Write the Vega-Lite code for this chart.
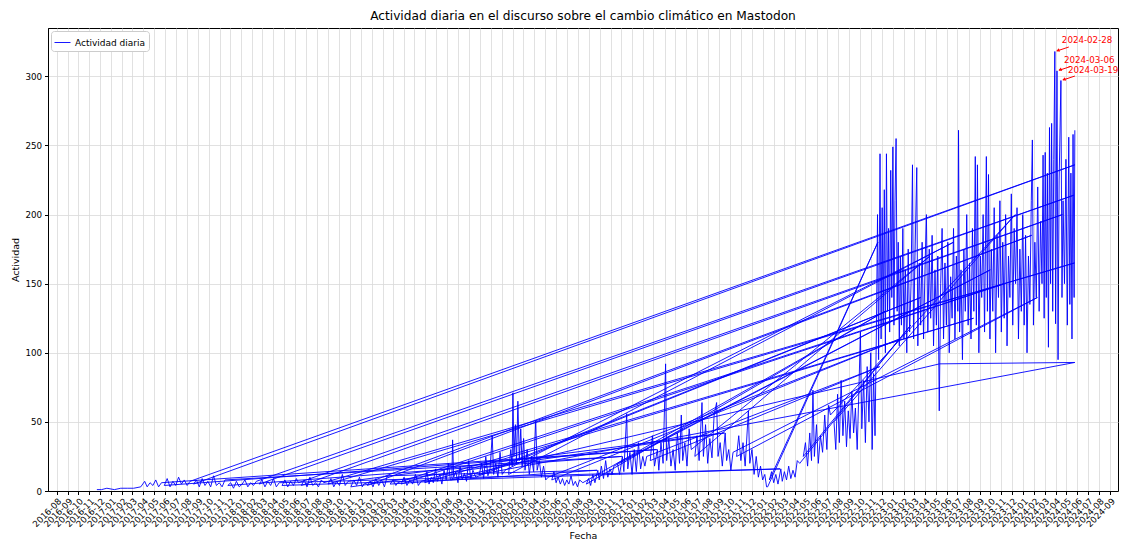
{
  "$schema": "https://vega.github.io/schema/vega-lite/v6.json",
  "width": 1070,
  "height": 463,
  "autosize": {"type": "none"},
  "padding": {"left": 48, "top": 28, "right": 3, "bottom": 49},
  "background": "white",
  "config": {
    "font": "DejaVu Sans",
    "view": {"stroke": "#000", "strokeWidth": 1},
    "axis": {
      "labelFont": "DejaVu Sans", "titleFont": "DejaVu Sans", "labelColor": "#000", "titleColor": "#000",
      "labelFontSize": 8.7, "titleFontSize": 9.5, "titleFontWeight": "normal",
      "tickSize": 3.5, "tickColor": "#000", "domainColor": "#000", "domainWidth": 1,
      "gridColor": "#d9d9d9", "gridWidth": 0.8, "grid": true
    }
  },
  "title": {"text": "Actividad diaria en el discurso sobre el cambio climático en Mastodon", "fontSize": 12.2, "fontWeight": "normal", "font": "DejaVu Sans", "color": "#000", "anchor": "middle", "offset": 6},
  "datasets": {
    "act": [
      {"d":"2016-11-22","v":1},{"d":"2016-12-05","v":1},{"d":"2016-12-20","v":2},{"d":"2017-01-10","v":1},{"d":"2017-01-28","v":2},{"d":"2017-02-15","v":2},{"d":"2017-03-05","v":2},{"d":"2017-03-25","v":3},{"d":"2017-04-05","v":7},{"d":"2017-04-12","v":3},{"d":"2017-04-20","v":6},{"d":"2017-04-28","v":4},{"d":"2017-05-06","v":8},{"d":"2017-05-14","v":3},{"d":"2017-05-22","v":6},
      {"d":"2021-03-10","v":30},
      {"d":"2017-05-30","v":4},{"d":"2017-06-07","v":9},{"d":"2017-06-15","v":3},{"d":"2017-06-23","v":7},{"d":"2017-07-01","v":4},{"d":"2017-07-09","v":10},{"d":"2017-07-17","v":5},{"d":"2017-07-25","v":8},{"d":"2017-08-02","v":4},{"d":"2017-08-10","v":7},
      {"d":"2024-05-25","v":236},
      {"d":"2017-08-20","v":5},{"d":"2017-08-28","v":8},{"d":"2017-09-05","v":3},{"d":"2017-09-13","v":9},{"d":"2017-09-21","v":4},{"d":"2017-09-29","v":7},{"d":"2017-10-07","v":3},{"d":"2017-10-15","v":11},{"d":"2017-10-23","v":4},{"d":"2017-10-31","v":6},{"d":"2017-11-08","v":3},{"d":"2017-11-16","v":8},
      {"d":"2020-12-02","v":25},
      {"d":"2017-11-24","v":4},{"d":"2017-12-02","v":6},{"d":"2017-12-10","v":2},{"d":"2017-12-18","v":7},{"d":"2017-12-26","v":3},{"d":"2018-01-03","v":5},{"d":"2018-01-11","v":8},{"d":"2018-01-19","v":3},{"d":"2018-01-27","v":6},{"d":"2018-02-04","v":4},{"d":"2018-02-12","v":7},
      {"d":"2024-05-22","v":214},
      {"d":"2018-02-20","v":5},{"d":"2018-02-28","v":8},{"d":"2018-03-08","v":3},{"d":"2018-03-16","v":7},{"d":"2018-03-24","v":4},{"d":"2018-04-01","v":9},{"d":"2018-04-09","v":3},{"d":"2018-04-17","v":6},
      {"d":"2022-02-19","v":16},
      {"d":"2018-04-25","v":4},{"d":"2018-05-03","v":8},{"d":"2018-05-11","v":3},{"d":"2018-05-19","v":7},{"d":"2018-05-27","v":4},{"d":"2018-06-04","v":9},{"d":"2018-06-10","v":6},
      {"d":"2024-04-20","v":200},
      {"d":"2018-06-18","v":4},{"d":"2018-06-26","v":8},{"d":"2018-07-04","v":3},{"d":"2018-07-12","v":10},{"d":"2018-07-20","v":4},{"d":"2018-07-28","v":6},{"d":"2018-08-05","v":3},{"d":"2018-08-13","v":8},{"d":"2018-08-20","v":6},
      {"d":"2024-05-24","v":165},
      {"d":"2018-09-01","v":5},{"d":"2018-09-09","v":9},{"d":"2018-09-17","v":3},{"d":"2018-09-25","v":7},{"d":"2018-10-03","v":4},{"d":"2018-10-11","v":12},{"d":"2018-10-19","v":4},{"d":"2018-10-27","v":7},
      {"d":"2021-09-16","v":42},
      {"d":"2018-11-04","v":3},{"d":"2018-11-12","v":8},{"d":"2018-11-20","v":4},{"d":"2018-11-28","v":10},{"d":"2018-12-06","v":3},{"d":"2018-12-10","v":5},
      {"d":"2024-01-25","v":185},
      {"d":"2018-12-20","v":4},{"d":"2018-12-28","v":7},{"d":"2019-01-05","v":3},{"d":"2019-01-13","v":9},{"d":"2019-01-21","v":4},{"d":"2019-01-29","v":8},{"d":"2019-02-06","v":3},{"d":"2019-02-14","v":11},
      {"d":"2020-09-24","v":15},
      {"d":"2019-02-22","v":5},{"d":"2019-03-02","v":8},{"d":"2019-03-10","v":4},{"d":"2019-03-15","v":6},
      {"d":"2023-11-10","v":150},
      {"d":"2019-03-25","v":5},{"d":"2019-04-02","v":10},{"d":"2019-04-10","v":4},{"d":"2019-04-18","v":8},{"d":"2019-04-26","v":5},{"d":"2019-05-04","v":12},{"d":"2019-05-12","v":4},{"d":"2019-05-20","v":7},
      {"d":"2023-08-15","v":125},
      {"d":"2019-05-30","v":6},{"d":"2019-06-05","v":14},{"d":"2019-06-11","v":5},{"d":"2019-06-17","v":10},{"d":"2019-06-23","v":6},{"d":"2019-06-29","v":16},{"d":"2019-07-05","v":7},{"d":"2019-07-11","v":12},{"d":"2019-07-17","v":5},{"d":"2019-07-23","v":15},{"d":"2019-07-29","v":8},{"d":"2019-08-04","v":20},{"d":"2019-08-10","v":8},
      {"d":"2024-05-25","v":93},{"d":"2023-05-12","v":92},
      {"d":"2019-08-14","v":9},{"d":"2019-08-16","v":37},{"d":"2019-08-19","v":10},{"d":"2019-08-25","v":14},{"d":"2019-08-31","v":6},{"d":"2019-09-06","v":18},{"d":"2019-09-12","v":8},{"d":"2019-09-18","v":13},{"d":"2019-09-24","v":7},{"d":"2019-09-30","v":22},{"d":"2019-10-06","v":9},{"d":"2019-10-12","v":15},{"d":"2019-10-20","v":10},
      {"d":"2023-03-20","v":140},
      {"d":"2019-10-30","v":12},{"d":"2019-11-05","v":20},{"d":"2019-11-11","v":9},{"d":"2019-11-17","v":25},{"d":"2019-11-23","v":11},{"d":"2019-11-29","v":16},{"d":"2019-12-05","v":40},{"d":"2019-12-09","v":12},{"d":"2019-12-15","v":20},{"d":"2019-12-21","v":10},{"d":"2019-12-27","v":28},{"d":"2020-01-02","v":12},{"d":"2020-01-10","v":15},
      {"d":"2023-06-20","v":180},
      {"d":"2020-01-20","v":12},{"d":"2020-01-26","v":30},{"d":"2020-01-30","v":18},{"d":"2020-02-01","v":71},{"d":"2020-02-04","v":25},{"d":"2020-02-08","v":48},{"d":"2020-02-11","v":20},{"d":"2020-02-15","v":65},{"d":"2020-02-19","v":22},{"d":"2020-02-23","v":45},{"d":"2020-02-27","v":18},{"d":"2020-03-02","v":38},{"d":"2020-03-06","v":15},{"d":"2020-03-12","v":30},{"d":"2020-03-18","v":12},{"d":"2020-03-24","v":25},{"d":"2020-03-30","v":14},{"d":"2020-04-05","v":51},{"d":"2020-04-09","v":15},{"d":"2020-04-15","v":22},{"d":"2020-04-21","v":10},{"d":"2020-04-27","v":18},{"d":"2020-05-03","v":8},{"d":"2020-05-10","v":10},
      {"d":"2023-01-20","v":110},
      {"d":"2020-05-20","v":8},{"d":"2020-05-26","v":14},{"d":"2020-06-01","v":6},{"d":"2020-06-07","v":10},{"d":"2020-06-13","v":5},{"d":"2020-06-19","v":9},{"d":"2020-06-25","v":4},{"d":"2020-07-01","v":8},{"d":"2020-07-07","v":5},{"d":"2020-07-13","v":11},{"d":"2020-07-19","v":4},{"d":"2020-07-25","v":7},{"d":"2020-07-31","v":3},{"d":"2020-08-06","v":8},{"d":"2020-08-15","v":6},
      {"d":"2022-12-10","v":130},
      {"d":"2020-08-25","v":5},{"d":"2020-08-31","v":9},{"d":"2020-09-06","v":4},{"d":"2020-09-12","v":12},{"d":"2020-09-18","v":6},{"d":"2020-09-26","v":15},{"d":"2020-09-30","v":8},{"d":"2020-10-06","v":18},{"d":"2020-10-12","v":9},{"d":"2020-10-18","v":22},{"d":"2020-10-24","v":10},{"d":"2020-10-30","v":16},{"d":"2020-11-05","v":12},{"d":"2020-11-10","v":18},
      {"d":"2023-10-01","v":160},
      {"d":"2020-11-20","v":20},{"d":"2020-11-26","v":12},{"d":"2020-12-04","v":25},{"d":"2020-12-08","v":14},{"d":"2020-12-16","v":56},{"d":"2020-12-19","v":16},{"d":"2020-12-25","v":28},{"d":"2020-12-31","v":12},{"d":"2021-01-06","v":30},{"d":"2021-01-12","v":14},{"d":"2021-01-18","v":35},{"d":"2021-01-24","v":16},{"d":"2021-01-30","v":25},{"d":"2021-02-05","v":18},{"d":"2021-02-10","v":25},
      {"d":"2022-11-25","v":90},
      {"d":"2021-02-20","v":22},{"d":"2021-02-26","v":40},{"d":"2021-03-04","v":18},{"d":"2021-03-12","v":30},{"d":"2021-03-16","v":15},{"d":"2021-03-22","v":35},{"d":"2021-03-28","v":20},{"d":"2021-04-04","v":92},{"d":"2021-04-07","v":22},{"d":"2021-04-13","v":38},{"d":"2021-04-19","v":18},{"d":"2021-04-25","v":30},{"d":"2021-05-01","v":15},{"d":"2021-05-07","v":42},{"d":"2021-05-13","v":20},{"d":"2021-05-18","v":55},{"d":"2021-05-22","v":22},{"d":"2021-05-28","v":35},{"d":"2021-06-03","v":18},{"d":"2021-06-09","v":45},{"d":"2021-06-15","v":30},
      {"d":"2023-04-15","v":170},
      {"d":"2021-06-25","v":25},{"d":"2021-07-01","v":40},{"d":"2021-07-07","v":22},{"d":"2021-07-15","v":64},{"d":"2021-07-19","v":25},{"d":"2021-07-25","v":48},{"d":"2021-07-31","v":20},{"d":"2021-08-06","v":38},{"d":"2021-08-12","v":24},{"d":"2021-08-18","v":55},{"d":"2021-08-25","v":64},{"d":"2021-08-29","v":25},{"d":"2021-09-04","v":35},{"d":"2021-09-10","v":18},{"d":"2021-09-18","v":42},{"d":"2021-09-22","v":22},{"d":"2021-09-28","v":30},{"d":"2021-10-04","v":15},{"d":"2021-10-10","v":28},
      {"d":"2024-02-10","v":140},
      {"d":"2021-10-20","v":25},{"d":"2021-10-26","v":40},{"d":"2021-11-01","v":22},{"d":"2021-11-07","v":35},{"d":"2021-11-13","v":18},{"d":"2021-11-22","v":58},{"d":"2021-11-26","v":20},{"d":"2021-12-02","v":30},{"d":"2021-12-08","v":12},{"d":"2021-12-14","v":25},{"d":"2021-12-20","v":10},{"d":"2021-12-26","v":18},{"d":"2022-01-01","v":8},{"d":"2022-01-07","v":12},{"d":"2022-01-12","v":3},{"d":"2022-01-15","v":3},
      {"d":"2022-11-20","v":180},
      {"d":"2022-01-20","v":8},{"d":"2022-01-26","v":14},{"d":"2022-02-01","v":6},{"d":"2022-02-07","v":12},{"d":"2022-02-13","v":5},{"d":"2022-02-21","v":16},{"d":"2022-02-25","v":7},{"d":"2022-03-03","v":14},{"d":"2022-03-09","v":8},{"d":"2022-03-15","v":18},{"d":"2022-03-21","v":9},{"d":"2022-03-27","v":15},{"d":"2022-04-02","v":10},{"d":"2022-04-08","v":22},{"d":"2022-04-15","v":20},
      {"d":"2023-02-20","v":120},
      {"d":"2022-04-25","v":25},{"d":"2022-05-01","v":35},{"d":"2022-05-07","v":18},{"d":"2022-05-13","v":42},{"d":"2022-05-18","v":22},{"d":"2022-05-22","v":73},{"d":"2022-05-26","v":25},{"d":"2022-06-01","v":48},{"d":"2022-06-06","v":20},{"d":"2022-06-12","v":40},{"d":"2022-06-18","v":28},{"d":"2022-06-24","v":55},{"d":"2022-06-30","v":30},{"d":"2022-07-05","v":62},{"d":"2022-07-10","v":55},
      {"d":"2023-12-10","v":200},
      {"d":"2022-07-20","v":50},{"d":"2022-07-25","v":30},{"d":"2022-07-30","v":70},{"d":"2022-08-04","v":35},{"d":"2022-08-09","v":80},{"d":"2022-08-14","v":40},{"d":"2022-08-19","v":65},{"d":"2022-08-24","v":32},{"d":"2022-08-29","v":58},{"d":"2022-09-03","v":38},{"d":"2022-09-08","v":72},{"d":"2022-09-13","v":42},{"d":"2022-09-18","v":60},{"d":"2022-09-23","v":30},{"d":"2022-09-28","v":75},{"d":"2022-10-02","v":115},{"d":"2022-10-06","v":45},{"d":"2022-10-11","v":80},{"d":"2022-10-16","v":35},{"d":"2022-10-21","v":90},{"d":"2022-10-26","v":50},{"d":"2022-10-31","v":100},{"d":"2022-11-04","v":30},{"d":"2022-11-08","v":85},{"d":"2022-11-12","v":40},{"d":"2022-11-16","v":120},
      {"d":"2022-11-19","v":200},{"d":"2022-11-22","v":95},{"d":"2022-11-26","v":244},{"d":"2022-11-29","v":110},{"d":"2022-12-02","v":205},{"d":"2022-12-05","v":120},{"d":"2022-12-08","v":218},{"d":"2022-12-11","v":100},{"d":"2022-12-14","v":244},{"d":"2022-12-17","v":130},{"d":"2022-12-20","v":190},{"d":"2022-12-23","v":115},{"d":"2022-12-26","v":232},{"d":"2022-12-29","v":140},{"d":"2023-01-01","v":249},{"d":"2023-01-04","v":120},{"d":"2023-01-07","v":210},{"d":"2023-01-10","v":255},{"d":"2023-01-13","v":130},{"d":"2023-01-16","v":180},{"d":"2023-01-19","v":105},{"d":"2023-01-22","v":170},{"d":"2023-01-25","v":120},{"d":"2023-01-29","v":190},{"d":"2023-02-01","v":110},{"d":"2023-02-05","v":160},{"d":"2023-02-09","v":100},{"d":"2023-02-13","v":175},{"d":"2023-02-17","v":115},{"d":"2023-02-21","v":150},{"d":"2023-02-25","v":236},{"d":"2023-02-28","v":110},{"d":"2023-03-04","v":170},{"d":"2023-03-09","v":234},{"d":"2023-03-12","v":105},{"d":"2023-03-16","v":165},{"d":"2023-03-20","v":120},{"d":"2023-03-24","v":180},{"d":"2023-03-28","v":110},{"d":"2023-04-01","v":160},{"d":"2023-04-05","v":200},{"d":"2023-04-09","v":115},{"d":"2023-04-13","v":175},{"d":"2023-04-17","v":125},{"d":"2023-04-21","v":185},{"d":"2023-04-25","v":105},{"d":"2023-04-29","v":160},{"d":"2023-05-03","v":120},{"d":"2023-05-07","v":170},{"d":"2023-05-11","v":58},{"d":"2023-05-15","v":150},{"d":"2023-05-19","v":190},{"d":"2023-05-23","v":110},{"d":"2023-05-27","v":165},{"d":"2023-05-31","v":120},{"d":"2023-06-04","v":180},{"d":"2023-06-08","v":100},{"d":"2023-06-12","v":155},{"d":"2023-06-16","v":125},{"d":"2023-06-20","v":190},{"d":"2023-06-24","v":110},{"d":"2023-06-28","v":170},{"d":"2023-07-02","v":130},{"d":"2023-07-04","v":261},{"d":"2023-07-07","v":115},{"d":"2023-07-11","v":160},{"d":"2023-07-15","v":95},{"d":"2023-07-19","v":175},{"d":"2023-07-23","v":130},{"d":"2023-07-27","v":200},{"d":"2023-07-31","v":120},{"d":"2023-08-04","v":165},{"d":"2023-08-08","v":110},{"d":"2023-08-12","v":190},{"d":"2023-08-16","v":130},{"d":"2023-08-20","v":242},{"d":"2023-08-23","v":120},{"d":"2023-08-26","v":236},{"d":"2023-08-30","v":100},{"d":"2023-09-03","v":170},{"d":"2023-09-07","v":140},{"d":"2023-09-11","v":200},{"d":"2023-09-15","v":115},{"d":"2023-09-20","v":242},{"d":"2023-09-23","v":130},{"d":"2023-09-26","v":229},{"d":"2023-09-30","v":110},{"d":"2023-10-04","v":175},{"d":"2023-10-08","v":130},{"d":"2023-10-12","v":205},{"d":"2023-10-16","v":100},{"d":"2023-10-20","v":185},{"d":"2023-10-24","v":140},{"d":"2023-10-28","v":210},{"d":"2023-11-01","v":115},{"d":"2023-11-05","v":180},{"d":"2023-11-09","v":125},{"d":"2023-11-13","v":200},{"d":"2023-11-17","v":105},{"d":"2023-11-21","v":170},{"d":"2023-11-25","v":140},{"d":"2023-11-29","v":215},{"d":"2023-12-03","v":120},{"d":"2023-12-07","v":190},{"d":"2023-12-11","v":150},{"d":"2023-12-15","v":205},{"d":"2023-12-19","v":110},{"d":"2023-12-23","v":175},{"d":"2023-12-27","v":130},{"d":"2023-12-31","v":200},{"d":"2024-01-04","v":120},{"d":"2024-01-08","v":185},{"d":"2024-01-12","v":100},{"d":"2024-01-16","v":170},{"d":"2024-01-20","v":135},{"d":"2024-01-24","v":210},{"d":"2024-01-27","v":254},{"d":"2024-01-30","v":120},{"d":"2024-02-03","v":180},{"d":"2024-02-07","v":140},{"d":"2024-02-11","v":220},{"d":"2024-02-15","v":130},{"d":"2024-02-19","v":195},{"d":"2024-02-23","v":150},{"d":"2024-02-26","v":243},{"d":"2024-02-29","v":125},{"d":"2024-03-03","v":245},{"d":"2024-03-06","v":140},{"d":"2024-03-09","v":230},{"d":"2024-03-12","v":104},{"d":"2024-03-15","v":263},{"d":"2024-03-18","v":150},{"d":"2024-03-21","v":266},{"d":"2024-03-24","v":130},{"d":"2024-03-27","v":240},{"d":"2024-03-30","v":318},{"d":"2024-04-01","v":121},{"d":"2024-04-05","v":304},{"d":"2024-04-08","v":95},{"d":"2024-04-11","v":225},{"d":"2024-04-16","v":297},{"d":"2024-04-19","v":140},{"d":"2024-04-22","v":210},{"d":"2024-04-26","v":150},{"d":"2024-04-30","v":240},{"d":"2024-05-04","v":120},{"d":"2024-05-08","v":256},{"d":"2024-05-11","v":135},{"d":"2024-05-14","v":230},{"d":"2024-05-17","v":110},{"d":"2024-05-20","v":258},{"d":"2024-05-23","v":140},{"d":"2024-05-25","v":261}
    ],
    "ann": [
      {"d":"2024-03-30","v":318,"t":"2024-02-28"},
      {"d":"2024-04-05","v":304,"t":"2024-03-06"},
      {"d":"2024-04-16","v":297,"t":"2024-03-19"}
    ]
  },
  "layer": [
    {
      "data": {"name": "act"},
      "mark": {"type": "line", "strokeWidth": 1, "opacity": 0.9, "clip": true},
      "encoding": {
        "x": {"field": "d", "type": "temporal", "title": "Fecha",
          "scale": {"type": "utc", "domain": [{"year": 2016, "month": 7, "date": 8, "utc": true}, {"year": 2024, "month": 9, "date": 23, "utc": true}]},
          "axis": {"format": "%Y-%m", "tickCount": {"interval": "month", "step": 1}, "labelAngle": -45, "labelAlign": "right", "labelBaseline": "top", "labelOverlap": false, "labelPadding": 2, "labelFlush": false, "titlePadding": 2}},
        "y": {"field": "v", "type": "quantitative", "title": "Actividad",
          "scale": {"domain": [0, 335], "nice": false},
          "axis": {"values": [0, 50, 100, 150, 200, 250, 300], "labelPadding": 3, "titlePadding": 4}},
        "color": {"datum": "Actividad diaria", "scale": {"range": ["#0000ff"]},
          "legend": {"title": null, "orient": "top-left", "offset": 3, "padding": 3, "symbolType": "stroke", "symbolSize": 256, "symbolStrokeWidth": 1, "labelFontSize": 9, "labelFont": "DejaVu Sans", "labelColor": "#000", "strokeColor": "#cccccc", "fillColor": "white", "cornerRadius": 3, "rowPadding": 0}},
        "order": {"value": null}
      }
    },
    {
      "data": {"name": "ann"},
      "mark": {"type": "rule", "color": "red", "strokeWidth": 1, "xOffset": 2, "yOffset": -0.5, "x2Offset": 14, "y2Offset": -4.5},
      "encoding": {
        "x": {"field": "d", "type": "temporal"},
        "y": {"field": "v", "type": "quantitative"},
        "x2": {"field": "d"},
        "y2": {"field": "v"}
      }
    },
    {
      "data": {"name": "ann"},
      "mark": {"type": "point", "shape": "triangle-up", "angle": 252, "size": 14, "filled": true, "color": "red", "opacity": 1, "xOffset": 3, "yOffset": -1},
      "encoding": {
        "x": {"field": "d", "type": "temporal"},
        "y": {"field": "v", "type": "quantitative"}
      }
    },
    {
      "data": {"name": "ann"},
      "mark": {"type": "text", "color": "red", "fontSize": 8.7, "font": "DejaVu Sans", "align": "left", "baseline": "middle", "dx": 7, "dy": -11},
      "encoding": {
        "x": {"field": "d", "type": "temporal"},
        "y": {"field": "v", "type": "quantitative"},
        "text": {"field": "t"}
      }
    }
  ]
}
